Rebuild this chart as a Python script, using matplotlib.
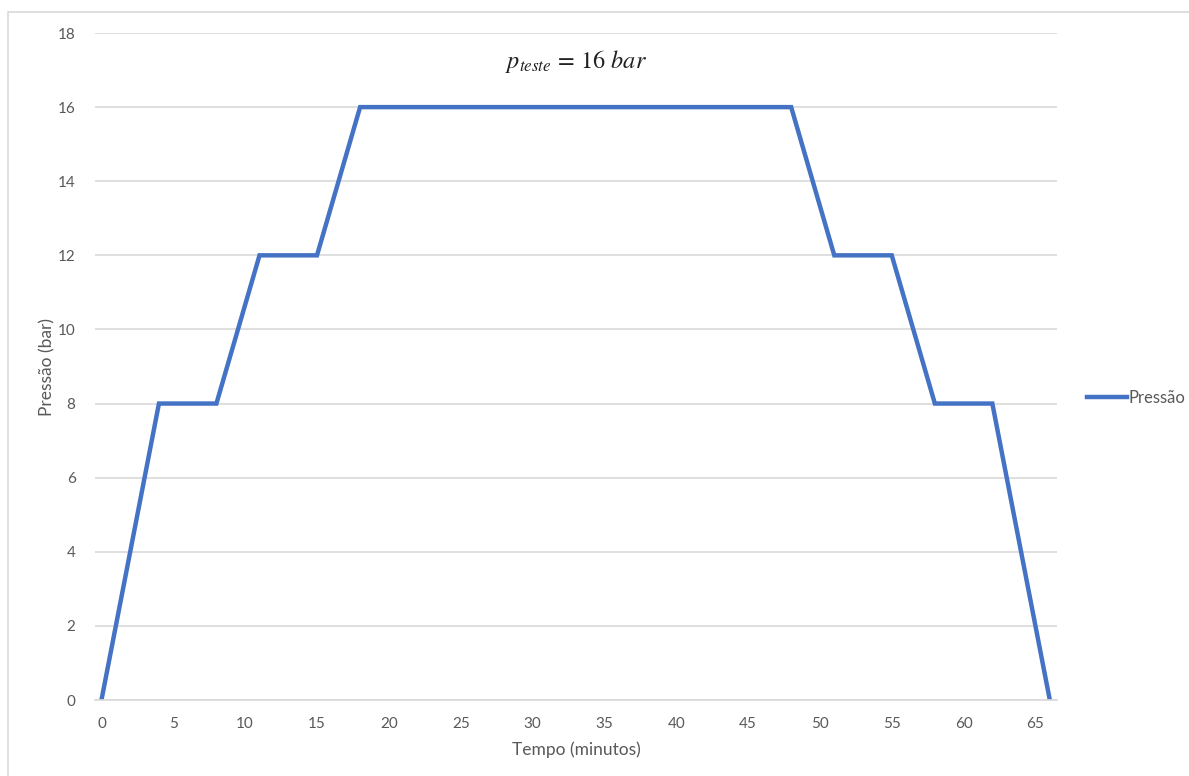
import matplotlib.pyplot as plt
from matplotlib.patches import Rectangle

# pressure test profile: time in minutes, pressure in bar
tempo = [0, 4, 8, 11, 15, 18, 48, 51, 55, 58, 62, 66]
pressao = [0, 8, 8, 12, 12, 16, 16, 12, 12, 8, 8, 0]
x_ticks = list(range(0, 70, 5))
y_ticks = list(range(0, 20, 2))

plt.rcParams['font.family'] = ['Lato', 'DejaVu Sans']
plt.rcParams['mathtext.fontset'] = 'stix'

text_color = '#595959'
grid_color = '#D9D9D9'

fig = plt.figure(figsize=(11.89, 7.76), dpi=100, facecolor='white')
ax = fig.add_axes([95 / 1189, 1 - 700 / 776, (1057 - 95) / 1189, (700 - 33) / 776])

ax.plot(tempo, pressao, color='#4472C4', lw=3.2, label='Pressão', solid_joinstyle='miter')

ax.set_xlim(-0.45, 66.5)
ax.set_ylim(0, 18)
ax.set_xticks(x_ticks)
ax.set_yticks(y_ticks)
ax.yaxis.grid(True, color=grid_color, lw=1.2)
ax.set_axisbelow(True)
for side in ['top', 'right', 'left']:
    ax.spines[side].set_visible(False)
ax.spines['bottom'].set_color(grid_color)
ax.spines['bottom'].set_linewidth(1.2)
ax.tick_params(length=0, labelsize=11, labelcolor=text_color, pad=12)
ax.tick_params(axis='y', pad=14)

ax.set_xlabel('Tempo (minutos)', fontsize=12.5, color=text_color, labelpad=8)
ax.set_ylabel('Pressão (bar)', fontsize=12.5, color=text_color, labelpad=2)

ax.text(0.5, 0.958, r'$p_{teste}\,=\,16\ bar$', transform=ax.transAxes,
        ha='center', va='center', fontsize=17.5, color='#222222')

fig.legend(loc='center left', bbox_to_anchor=(1072 / 1189, 1 - 398 / 776),
           frameon=False, handlelength=2.4, handletextpad=0.1,
           fontsize=12, labelcolor=text_color)

# chart area border
fig.patches.append(Rectangle((8 / 1189, -0.1), 1.2, 1 - 12 / 776 + 0.1,
                             transform=fig.transFigure, fill=False,
                             edgecolor=grid_color, lw=1.2))

fig.savefig('out.png', dpi=100)
